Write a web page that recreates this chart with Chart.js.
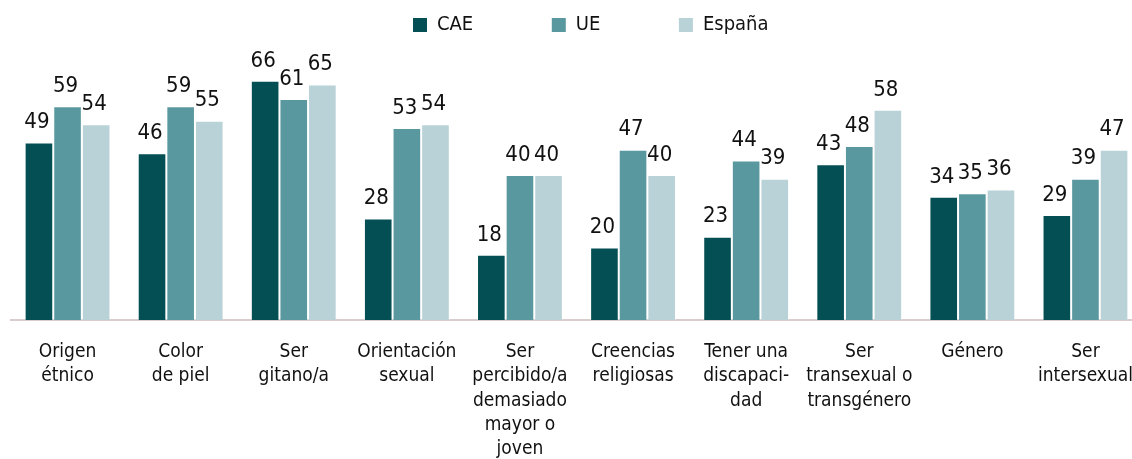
<!DOCTYPE html>
<html>
<head>
<meta charset="utf-8">
<script src="https://cdn.jsdelivr.net/npm/chart.js@4"></script>
<style>
  html, body { margin: 0; padding: 0; background: #fff; overflow: hidden; }
  /* the plot runs a little past the right edge of the picture, as in the original */
  #wrap { width: 1145px; height: 459px; }
</style>
</head>
<body>
<div id="wrap"><canvas id="myChart"></canvas></div>
<script>
const categories = [
  ['Origen', 'étnico'],
  ['Color', 'de piel'],
  ['Ser', 'gitano/a'],
  ['Orientación', 'sexual'],
  ['Ser', 'percibido/a', 'demasiado', 'mayor o', 'joven'],
  ['Creencias', 'religiosas'],
  ['Tener una', 'discapaci-', 'dad'],
  ['Ser', 'transexual o', 'transgénero'],
  ['Género'],
  ['Ser', 'intersexual']
];
const seriesNames = ['CAE', 'UE', 'España'];
const caeValues = [49, 46, 66, 28, 18, 20, 23, 43, 34, 29];
const ueValues = [59, 59, 61, 53, 40, 47, 44, 48, 35, 39];
const espanaValues = [54, 55, 65, 54, 40, 40, 39, 58, 36, 47];

const FONT = "'Liberation Sans Narrow', 'DejaVu Sans Condensed', 'Arial Narrow', sans-serif";
const LEGEND_SIZE = 20;

// the legend items sit far apart in the original; labels.padding would also
// pad vertically, so the gap is made with trailing spaces instead
const measure = document.createElement('canvas').getContext('2d');
measure.font = LEGEND_SIZE + 'px ' + FONT;
function padTo(text, width) {
  while (measure.measureText(text).width < width) text += ' ';
  return text;
}
const legendWidths = [103, 92, 0];

// draws the number above every bar (no datalabels plugin here)
const valueLabels = {
  id: 'valueLabels',
  afterLayout(chart) {
    // move legend so the first box starts where the original one does
    const lg = chart.legend;
    if (lg && lg.lineWidths) {
      lg.left = 2 * 413 - lg.options.labels.padding - lg.right + lg.lineWidths[0];
    }
  },
  afterDatasetsDraw(chart) {
    const ctx = chart.ctx;
    ctx.save();
    ctx.font = '22px ' + FONT;
    ctx.fillStyle = '#111';
    ctx.textAlign = 'center';
    ctx.textBaseline = 'bottom';
    chart.data.datasets.forEach((ds, i) => {
      chart.getDatasetMeta(i).data.forEach((bar, j) => {
        ctx.fillText(ds.data[j], bar.x - 2, bar.y - 9);
      });
    });
    ctx.restore();
  }
};

const ctx = document.getElementById('myChart');
let myChart = new Chart(ctx, {
  type: 'bar',
  data: {
    labels: categories,
    datasets: [
      { label: seriesNames[0], data: caeValues, backgroundColor: '#034f54' },
      { label: seriesNames[1], data: ueValues, backgroundColor: '#5a98a0' },
      { label: seriesNames[2], data: espanaValues, backgroundColor: '#b8d2d7' }
    ]
  },
  options: {
    responsive: true,
    maintainAspectRatio: false,
    animation: false,
    layout: { padding: { top: 5, left: 11, right: 0, bottom: 0 } },
    datasets: {
      bar: {
        categoryPercentage: 0.759,
        barPercentage: 1,
        borderWidth: 1,
        borderColor: 'rgba(255,255,255,0.35)'
      }
    },
    plugins: {
      legend: {
        position: 'top',
        labels: {
          boxWidth: 14,
          boxHeight: 14,
          padding: 10,
          color: '#111',
          font: { family: FONT, size: LEGEND_SIZE },
          generateLabels(chart) {
            const items = Chart.defaults.plugins.legend.labels.generateLabels(chart);
            items.forEach((item, i) => {
              item.text = padTo(item.text, legendWidths[i]);
              item.lineWidth = 0;
            });
            return items;
          }
        }
      },
      tooltip: { enabled: false }
    },
    scales: {
      x: {
        grid: { display: false },
        border: { color: '#d8cccc', width: 2 },
        ticks: {
          color: '#111',
          padding: 12,
          maxRotation: 0,
          autoSkip: false,
          font: { family: FONT, size: 19, lineHeight: 1.28 }
        },
        afterFit(scale) { scale.height = 139; }
      },
      y: {
        display: false,
        min: 0,
        max: 75.9
      }
    }
  },
  plugins: [valueLabels]
});
</script>
</body>
</html>
